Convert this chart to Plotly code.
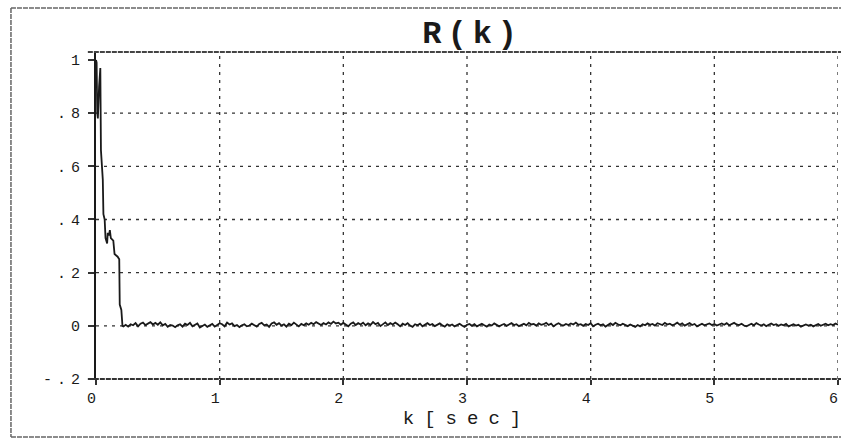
import numpy as np
import plotly.graph_objects as go

# ---- data ----
k_early = [0.000, 0.005, 0.010, 0.015, 0.025, 0.035, 0.040, 0.045, 0.055, 0.060,
           0.070, 0.077, 0.090, 0.095, 0.105, 0.112, 0.120, 0.140, 0.150, 0.175,
           0.188, 0.192, 0.205, 0.214, 0.222]
r_early = [1.00, 0.99, 0.80, 0.78, 0.90, 0.97, 0.66, 0.62, 0.55, 0.42,
           0.40, 0.33, 0.31, 0.35, 0.34, 0.36, 0.33, 0.32, 0.27, 0.26,
           0.25, 0.08, 0.06, 0.00, -0.002]

noise_start = 0.24
noise_step = 0.02
r_noise = [
    0.004, -0.003, 0.006, 0.002, 0.010, -0.002, 0.008, 0.012, 0.003, 0.009, 0.014, 0.005,
    0.011, 0.004, 0.013, 0.002, 0.007, -0.004, 0.003, 0.001, -0.005, 0.002, 0.006, -0.003,
    0.008, 0.003, 0.011, -0.002, 0.004, 0.009, -0.006, 0.001, 0.005, -0.004, 0.002, 0.007,
    -0.003, 0.004, 0.010, 0.006, -0.002, 0.012, 0.005, 0.009, -0.001, 0.003, -0.005, 0.002,
    0.006, -0.002, 0.001, 0.008, 0.004, -0.003, 0.007, 0.011, 0.002, 0.005, -0.004, 0.009,
    0.013, 0.004, 0.010, 0.001, 0.006, -0.003, 0.008, 0.003, 0.012, 0.005, -0.002, 0.007,
    0.002, 0.009, 0.004, 0.011, 0.006, 0.014, 0.008, 0.003, 0.010, 0.005, 0.013, 0.007,
    0.016, 0.009, 0.012, 0.004, 0.011, 0.006, -0.002, 0.008, 0.013, 0.003, 0.010, 0.005,
    0.012, 0.002, 0.009, 0.004, 0.014, 0.006, 0.011, -0.001, 0.007, 0.013, 0.003, 0.010,
    0.005, 0.012, 0.006, -0.002, 0.008, 0.003, 0.010, 0.001, -0.004, 0.006, 0.002, 0.008,
    -0.002, 0.005, 0.010, 0.003, 0.007, -0.001, 0.004, 0.009, 0.002, -0.003, 0.006, 0.001,
    0.005, -0.002, 0.003, 0.008, 0.001, -0.004, 0.004, 0.007, 0.000, 0.006, -0.002, 0.003,
    0.008, 0.002, -0.003, 0.005, 0.001, 0.009, 0.004, -0.002, 0.003, 0.007, 0.000, 0.005,
    0.010, 0.003, 0.006, -0.001, 0.004, 0.008, 0.002, 0.011, 0.005, 0.007, 0.001, 0.009,
    0.004, 0.006, 0.011, 0.003, 0.008, -0.002, 0.005, 0.010, 0.004, 0.001, 0.007, 0.003,
    0.009, 0.005, 0.012, 0.004, 0.006, 0.000, 0.007, 0.003, 0.010, -0.002, 0.004, 0.008,
    0.002, 0.006, -0.003, 0.004, 0.009, 0.003, 0.011, 0.006, 0.002, 0.008, 0.004, -0.001,
    0.005, 0.001, -0.004, 0.003, -0.002, 0.006, 0.002, 0.009, 0.004, 0.007, 0.001, 0.010,
    0.006, 0.003, 0.011, 0.005, 0.008, 0.002, 0.006, 0.012, 0.004, 0.009, 0.001, 0.005,
    0.010, 0.003, 0.007, -0.002, 0.004, 0.008, 0.002, 0.006, 0.009, 0.003, 0.007, 0.001,
    0.005, 0.009, 0.004, 0.010, 0.002, 0.006, 0.011, 0.005, 0.003, 0.008, 0.001, -0.002,
    0.004, 0.008, 0.002, 0.010, 0.005, 0.001, 0.006, -0.001, 0.004, 0.009, 0.003, 0.006,
    0.000, 0.005, 0.002, 0.007, -0.002, 0.003, 0.006, 0.001, 0.004, -0.003, 0.002, 0.005,
    0.001, 0.004, -0.002, 0.003, 0.007, 0.000, 0.004, 0.008, 0.002, 0.006, 0.003, 0.009,
    0.004,
]

x_ticks = [0, 1, 2, 3, 4, 5, 6]
x_tick_text = ["0", "1", "2", "3", "4", "5", "6"]
y_ticks = [-0.2, 0, 0.2, 0.4, 0.6, 0.8, 1.0]
y_tick_text = ["-.2", "0", ".2", ".4", ".6", ".8", "1"]
x_grid = [1, 2, 3, 4, 5, 6]
y_grid = [0, 0.2, 0.4, 0.6, 0.8]

title_text = "R(k)"
x_title = "k[sec]"

# ---- build series ----
k_noise = list(np.round(noise_start + noise_step * np.arange(len(r_noise)), 4))
k_all = k_early + k_noise
r_all = r_early + r_noise

X_RANGE = [0, 6]
Y_RANGE = [-0.2, 1.03]
MONO = "Liberation Mono, DejaVu Sans Mono, monospace"
INK = "#1a1a1a"

fig = go.Figure()
fig.add_trace(go.Scatter(x=k_all, y=r_all, mode="lines",
                         line=dict(color=INK, width=1.8), showlegend=False,
                         hoverinfo="skip"))

shapes = []
for gx in x_grid:
    shapes.append(dict(type="line", xref="x", yref="y", x0=gx, x1=gx,
                       y0=Y_RANGE[0], y1=Y_RANGE[1], layer="below",
                       line=dict(color="#333", width=1.3, dash="3px,5px")))
for gy in y_grid:
    shapes.append(dict(type="line", xref="x", yref="y", x0=X_RANGE[0], x1=X_RANGE[1],
                       y0=gy, y1=gy, layer="below",
                       line=dict(color="#333", width=1.3, dash="3px,5px")))
# top and bottom borders of the plot (dense dashes)
frame_line = dict(color="#444", width=1.8, dash="5px,1px")
shapes.append(dict(type="line", xref="paper", yref="paper", x0=-0.011, x1=1.01,
                   y0=1, y1=1, line=frame_line))
shapes.append(dict(type="line", xref="paper", yref="paper", x0=-0.011, x1=1.01,
                   y0=0, y1=0, line=dict(color="#333", width=2, dash="5px,1px")))
# outer page frame
outer = dict(color="#666", width=1.5, dash="5px,1px")
shapes.append(dict(type="line", xref="paper", yref="paper", x0=-0.1146, x1=1.01,
                   y0=1.1346, y1=1.1346, line=outer))
shapes.append(dict(type="line", xref="paper", yref="paper", x0=-0.1146, x1=-0.1146,
                   y0=1.1346, y1=-0.177, line=outer))
shapes.append(dict(type="line", xref="paper", yref="paper", x0=-0.1146, x1=1.01,
                   y0=-0.177, y1=-0.177, line=outer))

fig.update_layout(
    width=841, height=438,
    margin=dict(l=96, r=3, t=52, b=59, autoexpand=False),
    paper_bgcolor="white", plot_bgcolor="white",
    title=dict(text=title_text, x=0.562, xanchor="center",
               y=1 - 32 / 438, yanchor="middle", yref="container",
               font=dict(family=MONO, size=32, color=INK, weight="bold")),
    shapes=shapes,
    font=dict(family=MONO, color=INK),
)
fig.update_xaxes(range=X_RANGE, tickvals=x_ticks, ticktext=x_tick_text,
                 showgrid=False, zeroline=False, showline=False, automargin=False,
                 ticks="outside", ticklen=5, tickcolor="#333", tickwidth=1.5,
                 ticklabeloverflow="allow",
                 tickfont=dict(family=MONO, size=15, color=INK),
                 title=dict(text=x_title, standoff=3,
                            font=dict(family=MONO, size=19, color=INK)))
fig.update_yaxes(range=Y_RANGE, tickvals=y_ticks, ticktext=y_tick_text,
                 showgrid=False, zeroline=False, automargin=False,
                 showline=True, linecolor=INK, linewidth=2,
                 ticks="outside", ticklen=6, tickcolor="#333", tickwidth=1.5,
                 tickfont=dict(family=MONO, size=15, color=INK))

post = """
var gd = document.getElementById('{plot_id}');
function spaceText(){
  gd.querySelectorAll('text.gtitle').forEach(function(e){e.style.letterSpacing='6px';});
  gd.querySelectorAll('text.xtitle').forEach(function(e){e.style.letterSpacing='10px';});
  gd.querySelectorAll('g.ytick text').forEach(function(e){e.style.letterSpacing='5px';});
  gd.querySelectorAll('g.xtick text').forEach(function(e){e.style.letterSpacing='9px';});
}
spaceText();
setTimeout(spaceText, 50);
"""
fig.write_html("out.html", post_script=post)
